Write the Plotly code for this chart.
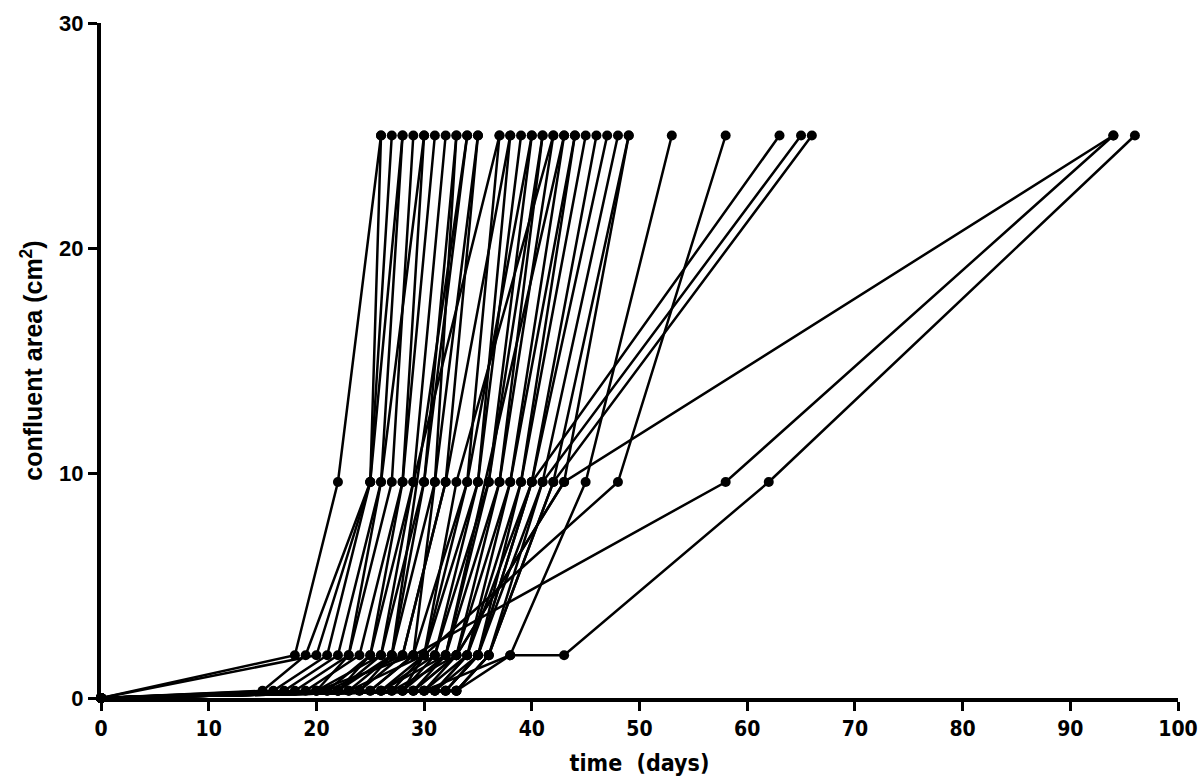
import plotly.graph_objects as go

# confluent area (cm2) of each culture vessel stage
area_levels = [0, 0.32, 1.9, 9.6, 25]

# day each culture reached the stage (None = stage skipped)
day_96well = [None, None, 16, 17, 18, 20, 19, 21, 22, 22, 23, 24, 24, 25, 20, 21, 26, 27, 26, 28,
              28, 29, 29, 30, 30, 31, 31, 32, 32, 33, 33, 27, 25, 23, 30, 28, 20, 33, 31, 32,
              33, 29, 26, 22, 15]
day_24well = [18, 20, 21, 22, 23, 23, 24, 25, 25, 26, 27, 27, 28, 29, 26, 28, 30, 30, 31, 31,
              32, 32, 33, 33, 34, 34, 35, 35, 35, 36, 36, 33, 29, 30, 38, 30, 29, 38, 34, 35,
              36, 33, 32, 27, 19]
day_24well_b = [None] * 37 + [43] + [None] * 7
day_6well = [22, 25, 25, 26, 27, 26, 28, 28, 29, 30, 30, 31, 32, 31, 29, 32, 34, 35, 35, 36,
             36, 37, 37, 38, 38, 39, 39, 40, 40, 41, 42, 43, 34, 33, 45, 48, 58, 62, 40, 41,
             42, 43, None, None, 25]
day_t25 = [26, 27, 26, 28, 29, 30, 30, 31, 32, 33, 34, 35, 35, 33, 37, 38, 37, 38, 39, 40,
           41, 41, 42, 43, 44, 44, 45, 46, 47, 48, 49, 49, 40, 42, 53, 58, 94, 96, 63, 65,
           66, 94, 43, 34, 28]

fig = go.Figure()

for i in range(len(day_t25)):
    xs = [0]
    ys = [area_levels[0]]
    if day_96well[i] is not None:
        xs.append(day_96well[i])
        ys.append(area_levels[1])
    xs.append(day_24well[i])
    ys.append(area_levels[2])
    if day_24well_b[i] is not None:
        xs.append(day_24well_b[i])
        ys.append(area_levels[2])
    if day_6well[i] is not None:
        xs.append(day_6well[i])
        ys.append(area_levels[3])
    xs.append(day_t25[i])
    ys.append(area_levels[4])
    fig.add_trace(go.Scatter(x=xs, y=ys, mode='lines+markers', showlegend=False,
                             line=dict(color='black', width=2.5),
                             marker=dict(color='black', size=10), cliponaxis=False))

narrow = 'Liberation Sans Narrow, DejaVu Sans Condensed, Arial Narrow, Liberation Sans'

fig.update_layout(
    width=1200, height=783,
    plot_bgcolor='white', paper_bgcolor='white',
    margin=dict(l=101, r=22, t=23, b=85),
    font=dict(family='Liberation Sans, Arial, sans-serif', color='black'),
)
fig.update_xaxes(
    range=[0, 100], tickvals=list(range(0, 101, 10)),
    showline=True, linewidth=4, linecolor='black', automargin=False,
    ticks='outside', ticklen=9, tickwidth=3, tickcolor='black',
    showgrid=False, zeroline=False, ticklabeloverflow='allow',
    tickfont=dict(family=narrow, size=21, weight='bold'),
    title=dict(text='time\u00a0\u00a0(days)', standoff=16,
               font=dict(family=narrow, size=23, weight='bold')),
)
fig.update_yaxes(
    range=[0, 30], tickvals=[0, 10, 20, 30],
    showline=True, linewidth=4, linecolor='black', automargin=False,
    ticks='outside', ticklen=9, tickwidth=3, tickcolor='black',
    showgrid=False, zeroline=False, ticklabeloverflow='allow',
    tickfont=dict(size=22, weight='bold'),
    title=dict(text='confluent area (cm<sup>2</sup>)', standoff=10,
               font=dict(size=25, weight='bold')),
)

# drop the default 8px page margin so the 1200x783 figure fills the window exactly
fig.write_html("out.html", config={'displayModeBar': False},
               post_script="document.body.style.margin='0';")
